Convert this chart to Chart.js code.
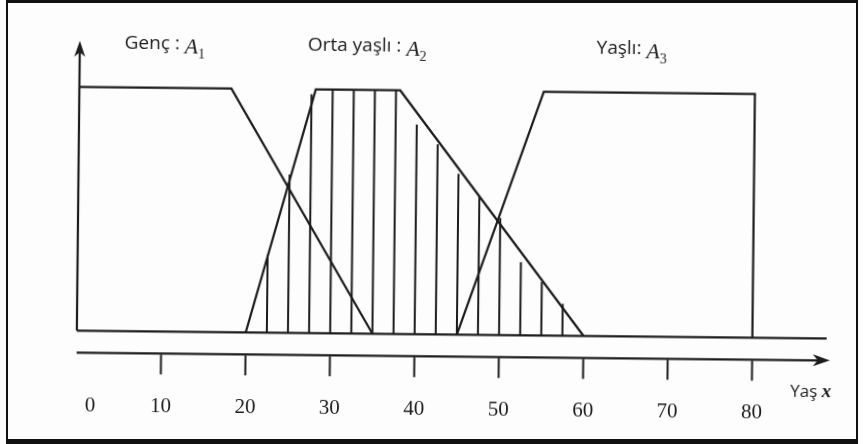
<!DOCTYPE html>
<html>
<head>
<meta charset="utf-8">
<script src="https://cdn.jsdelivr.net/npm/chart.js@4.4.1/dist/chart.umd.min.js"></script>
<style>
  html, body { margin: 0; padding: 0; background: #fff; }
  #wrap { position: relative; width: 863px; height: 444px; overflow: hidden; background: #fdfdfd; }
  #wrap canvas { display: block; transform: rotate(0.6deg); }
  #frame {
    position: absolute; left: 6px; top: 0; width: 852px; height: 444px;
    box-sizing: border-box; pointer-events: none;
    border-left: 2px solid #111; border-top: 3px solid #111;
    border-right: 2px solid #111; border-bottom: 5px solid #111;
  }
</style>
</head>
<body>
<div id="wrap">
  <canvas id="fuzzy" width="863" height="444"></canvas>
  <div id="frame"></div>
</div>
<script>
// age axis
const ageTicks = [0, 10, 20, 30, 40, 50, 60, 70, 80];

// membership functions (corner points)
const gencX  = [0, 18, 35];
const gencMu = [1, 1, 0];
const ortaX  = [20, 28, 38, 60];
const ortaMu = [0, 1, 1, 0];
const yasliX  = [45, 55, 80, 80];
const yasliMu = [0, 1, 1, 0];

// hatching under "Orta yaşlı"
const hatchX   = [22.5, 25, 27.5, 30, 32.5, 35, 37.5, 40, 42.5, 45, 47.5, 50, 52.5, 55, 57.5];
const hatchTop = [0.32, 0.65, 0.98, 1, 1, 1, 1, 0.86, 0.78, 0.66, 0.57, 0.48, 0.30, 0.22, 0.13];

const setNames = ['Genç : ', 'Orta yaşlı : ', 'Yaşlı: '];
const setSubs  = ['1', '2', '3'];
const axisName = 'Yaş';
const axisVar  = 'x';

// axis extents
const xAxisEnd = 89.2;
const baseEnd  = 88.8;
const yAxisEnd = 1.19;

const ink = '#1c1c1c';
const sans = '"Open Sans", "Noto Sans", sans-serif';
const serif = '"Liberation Serif", "DejaVu Serif", serif';

// where each set name starts (value units)
const nameAt = [5.3, 27.0, 61.2];
const nameY  = 1.158;

const toPts = (xs, ys) => xs.map((x, i) => ({ x, y: ys[i] }));

function lineSet(data, width) {
  return {
    type: 'line', data,
    borderColor: ink, borderWidth: width || 2.2,
    pointRadius: 0, tension: 0, fill: false, clip: false, spanGaps: false,
  };
}

const hatchPts = hatchX.flatMap((x, i) => [
  { x, y: 0 }, { x, y: hatchTop[i] }, { x, y: null },
]);

function arrowHead(ctx, tx, ty, dx, dy, len, half) {
  const px = -dy, py = dx;
  ctx.beginPath();
  ctx.moveTo(tx, ty);
  ctx.lineTo(tx - dx * len + px * half, ty - dy * len + py * half);
  ctx.lineTo(tx - dx * len * 0.72, ty - dy * len * 0.72);
  ctx.lineTo(tx - dx * len - px * half, ty - dy * len - py * half);
  ctx.closePath();
  ctx.fill();
}

const axesPlugin = {
  id: 'ageAxes',
  afterDatasetsDraw(chart) {
    const { ctx, scales: { x, y } } = chart;
    const x0 = x.getPixelForValue(0);
    const y0 = y.getPixelForValue(0);
    ctx.save();
    ctx.strokeStyle = ink;
    ctx.fillStyle = ink;

    // arrow on the membership axis
    arrowHead(ctx, x0, y.getPixelForValue(yAxisEnd), 0, -1, 16, 5.5);

    // separate age axis below the baseline
    const axY = y0 + 22;
    const tipX = x.getPixelForValue(xAxisEnd);
    ctx.lineWidth = 2.2;
    ctx.beginPath();
    ctx.moveTo(x0, axY);
    ctx.lineTo(tipX - 10, axY);
    ctx.stroke();
    arrowHead(ctx, tipX, axY, 1, 0, 17, 6);

    ctx.lineWidth = 2;
    ctx.font = '21px ' + serif;
    ctx.textAlign = 'center';
    ctx.textBaseline = 'alphabetic';
    ageTicks.forEach(v => {
      const px = x.getPixelForValue(v);
      if (v !== 0) {
        ctx.beginPath();
        ctx.moveTo(px, axY + 1);
        ctx.lineTo(px, axY + 21);
        ctx.stroke();
      }
      ctx.fillText(String(v), v === 0 ? px + 14 : px, y0 + 81);
    });

    // axis title
    ctx.textAlign = 'left';
    ctx.font = '17px ' + sans;
    const ax = 792, ay = y0 + 59;
    ctx.fillText(axisName, ax, ay);
    const aw = ctx.measureText(axisName + ' ').width;
    ctx.font = 'italic bold 19px ' + serif;
    ctx.fillText(axisVar, ax + aw, ay);

    // set names with A1..A3
    const ny = y.getPixelForValue(nameY);
    setNames.forEach((name, i) => {
      let nx = x.getPixelForValue(nameAt[i]);
      ctx.font = '19px ' + sans;
      ctx.fillText(name, nx, ny);
      nx += ctx.measureText(name).width;
      ctx.font = 'italic 22px ' + serif;
      ctx.fillText('A', nx, ny + 4);
      nx += ctx.measureText('A').width;
      ctx.font = '14px ' + serif;
      ctx.fillText(setSubs[i], nx, ny + 9);
    });
    ctx.restore();
  }
};

new Chart(document.getElementById('fuzzy'), {
  data: {
    datasets: [
      lineSet([{ x: 0, y: 0 }, { x: baseEnd, y: 0 }]),
      lineSet([{ x: 0, y: 0 }, { x: 0, y: yAxisEnd - 0.04 }]),
      lineSet(toPts(gencX, gencMu)),
      lineSet(toPts(ortaX, ortaMu)),
      lineSet(toPts(yasliX, yasliMu)),
      lineSet(hatchPts, 2),
    ]
  },
  options: {
    responsive: false,
    animation: false,
    layout: { padding: { left: 78, right: 25, top: 42, bottom: 61 } },
    plugins: { legend: { display: false }, tooltip: { enabled: false } },
    scales: {
      x: { type: 'linear', min: 0, max: 90, display: false },
      y: { type: 'linear', min: -0.2, max: 1.2, display: false },
    }
  },
  plugins: [axesPlugin]
});
</script>
</body>
</html>
